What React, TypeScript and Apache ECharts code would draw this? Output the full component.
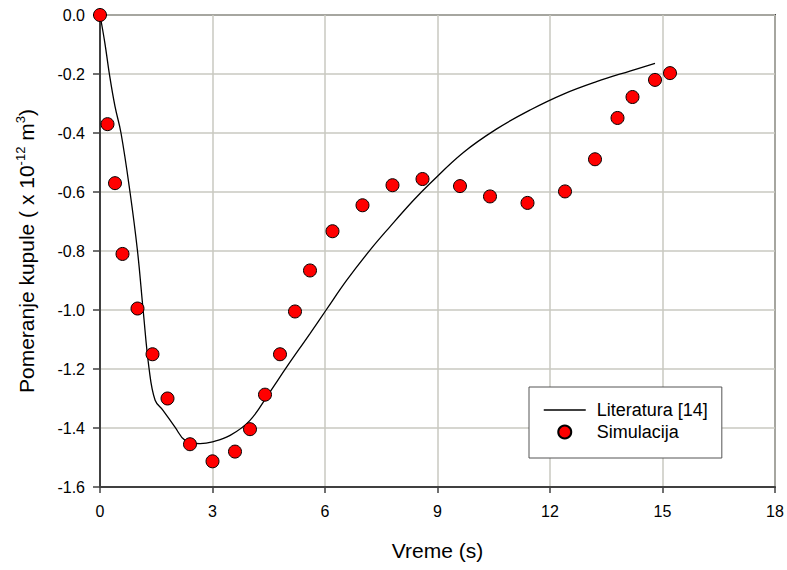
import React, { useEffect, useRef } from "react";
import * as echarts from "echarts";

const simX = [0, 0.2, 0.4, 0.6, 1.0, 1.4, 1.8, 2.4, 3.0, 3.6, 4.0, 4.4, 4.8, 5.2, 5.6, 6.2, 7.0, 7.8, 8.6, 9.6, 10.4, 11.4, 12.4, 13.2, 13.8, 14.2, 14.8, 15.2];
const simY = [0, -0.37, -0.57, -0.81, -0.995, -1.15, -1.30, -1.455, -1.513, -1.48, -1.404, -1.287, -1.15, -1.005, -0.866, -0.733, -0.645, -0.577, -0.556, -0.58, -0.615, -0.637, -0.598, -0.489, -0.349, -0.278, -0.22, -0.197];

const litX = [0, 0.13, 0.25, 0.4, 0.56, 0.8, 1.0, 1.15, 1.31, 1.47, 1.68, 2.0, 2.27, 2.67, 3.0, 3.47, 4.0, 4.53, 4.98, 5.6, 6.03, 6.58, 7.2, 7.73, 8.36, 8.8, 9.69, 10.58, 11.47, 12.36, 13.24, 14.13, 14.8];
const litY = [0, -0.095, -0.2, -0.31, -0.4, -0.6, -0.8, -1.0, -1.2, -1.306, -1.34, -1.397, -1.442, -1.453, -1.447, -1.425, -1.374, -1.278, -1.193, -1.08, -1.0, -0.899, -0.797, -0.718, -0.628, -0.571, -0.466, -0.386, -0.322, -0.268, -0.226, -0.19, -0.164];

const xTicks = { min: 0, max: 18, interval: 3 };
const yTicks = { min: -1.6, max: 0, interval: 0.2 };

const seriesNames = ["Literatura [14]", "Simulacija"];
const xTitle = "Vreme (s)";
const yTitle = "Pomeranje kupule ( x 10{sup|-12} m{sup|3})";

const FONT = "'Liberation Sans', Arial, sans-serif";

export default function App() {
  const ref = useRef<HTMLDivElement>(null);
  useEffect(() => {
    if (!ref.current) return;
    const chart = echarts.init(ref.current, null, { renderer: "svg" });
    const axisColor = "#404040";
    const gridColor = "#c8c8c0";
    chart.setOption({
      animation: false,
      backgroundColor: "#ffffff",
      textStyle: { fontFamily: FONT },
      grid: {
        left: 100,
        right: 12,
        top: 15,
        bottom: 83,
        show: true,
        borderColor: axisColor,
        borderWidth: 2,
        backgroundColor: "transparent",
      },
      legend: {
        orient: "vertical",
        left: 529,
        top: 387,
        padding: [14, 14, 17, 14],
        itemWidth: 42,
        itemHeight: 13,
        itemGap: 4,
        borderColor: "#555555",
        borderWidth: 1,
        backgroundColor: "#ffffff",
        borderRadius: 0,
        textStyle: { fontFamily: FONT, fontSize: 18, color: "#000", padding: [0, 0, 0, 6] },
        data: [
          {
            name: seriesNames[0],
            itemStyle: { color: "rgba(0,0,0,0)", borderColor: "rgba(0,0,0,0)", borderWidth: 0, opacity: 0 },
            lineStyle: { color: "#000000", width: 1.5 },
          },
          { name: seriesNames[1] },
        ],
      },
      xAxis: {
        type: "value",
        min: xTicks.min,
        max: xTicks.max,
        interval: xTicks.interval,
        name: xTitle,
        nameLocation: "middle",
        nameGap: 53,
        nameTextStyle: { fontFamily: FONT, fontSize: 21, color: "#000" },
        axisLine: { show: true, onZero: false, lineStyle: { color: axisColor, width: 2 } },
        axisTick: { show: true, inside: false, length: 6, lineStyle: { color: axisColor, width: 1.5 } },
        axisLabel: { margin: 16, fontFamily: FONT, fontSize: 16, color: "#000" },
        splitLine: { show: true, lineStyle: { color: gridColor, width: 1.5 } },
      },
      yAxis: {
        type: "value",
        min: yTicks.min,
        max: yTicks.max,
        interval: yTicks.interval,
        name: yTitle,
        nameLocation: "middle",
        nameGap: 62,
        nameRotate: 90,
        nameTextStyle: {
          fontFamily: FONT,
          fontSize: 21,
          color: "#000",
          rich: {
            sup: { fontFamily: FONT, fontSize: 13, color: "#000", padding: [0, 0, 11, 0] },
          },
        },
        axisLine: { show: true, onZero: false, lineStyle: { color: axisColor, width: 2 } },
        axisTick: { show: true, inside: false, length: 7, lineStyle: { color: axisColor, width: 1.5 } },
        axisLabel: {
          margin: 15,
          fontFamily: FONT,
          fontSize: 16,
          color: "#000",
          formatter: (v: number) => v.toFixed(1),
        },
        splitLine: { show: true, lineStyle: { color: gridColor, width: 1.5 } },
      },
      series: [
        {
          name: seriesNames[0],
          type: "line",
          data: litX.map((x, i) => [x, litY[i]]),
          symbol: "none",
          smooth: 0.4,
          lineStyle: { color: "#000000", width: 1.3 },
          itemStyle: { color: "#000000" },
          z: 2,
        },
        {
          name: seriesNames[1],
          type: "scatter",
          data: simX.map((x, i) => [x, simY[i]]),
          symbol: "circle",
          symbolSize: 13,
          clip: false,
          itemStyle: { color: "#ff0000", borderColor: "#000000", borderWidth: 1, opacity: 1 },
          z: 3,
        },
      ],
    });
    return () => chart.dispose();
  }, []);
  return (
    <div
      ref={ref}
      style={{ position: "absolute", left: 0, top: 0, width: 787, height: 570, background: "#fff" }}
    />
  );
}
